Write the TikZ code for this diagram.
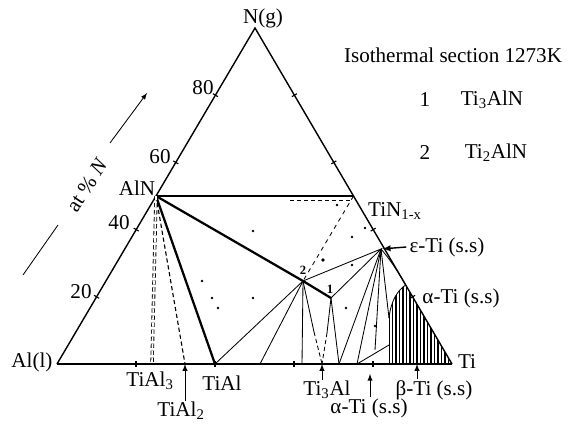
\documentclass[tikz,border=0pt]{standalone}
\usepackage{fontspec}
\setmainfont{Liberation Serif}

\tikzset{
  lbl/.style={font=\fontsize{15}{18}\selectfont, inner sep=0pt},
  ptlbl/.style={font=\fontsize{9}{10}\selectfont\bfseries, inner sep=0pt},
  phase/.style={line width=0.6pt},
  tie/.style={line width=1.6pt},
}

\begin{document}
\begin{tikzpicture}[x=0.025cm, y=-0.025cm]
    \useasboundingbox (0,0) rectangle (570,432);

    % corners and invariant points
    \coordinate (Al) at (57,364);
    \coordinate (Ti) at (452,364);
    \coordinate (N) at (255,28);
    \coordinate (AlN) at (156,196);
    \coordinate (TiN) at (353.5,196);
    \coordinate (eps) at (381,249);
    \coordinate (P2) at (303,281);
    \coordinate (P1) at (331,298);
    \coordinate (TiAl3) at (152,364);
    \coordinate (TiAl2) at (185,364);
    \coordinate (TiAl) at (215,364);
    \coordinate (Ti3Al) at (322,364);
    \coordinate (b1) at (260,364);
    \coordinate (b2) at (302,364);
    \coordinate (b3) at (339,364);
    \coordinate (b4) at (357,364);
    \coordinate (e1) at (375,350);
    \coordinate (h1) at (389,318);
    \coordinate (h2) at (405.7,285);
    \coordinate (m2) at (314,332);
    \coordinate (m1) at (327,333);
    \coordinate (aTi) at (370,364);
    \coordinate (bTi) at (417,364);

    % hatched field next to Ti
    \begin{scope}
      \clip (389,364) -- (h1) .. controls (391,300) and (398,290) .. (h2) -- (Ti) -- cycle;
      \foreach \x in {389,392.5,...,452} {
          \draw[line width=0.9pt] (\x,280) -- (\x,364);
        }
    \end{scope}

    % triangle
    \draw[line width=1pt] (Al) -- (N) -- (Ti);
    \draw[line width=1.5pt] (Al) -- (Ti);

    % ticks every 20 %
    \foreach \x/\y in {96.6/296.8, 136.2/229.6, 175.8/162.4, 215.4/95.2} {
        \draw[line width=0.8pt] (\x,\y) ++(-2.5,-1.5) -- ++(5,3);
      }
    \foreach \x/\y in {294.4/95.2, 333.8/162.4, 373.2/229.6, 412.6/296.8} {
        \draw[line width=0.8pt] (\x,\y) ++(-2.5,1.5) -- ++(5,-3);
      }
    \foreach \x in {136,215,294,373} {
        \draw[line width=0.8pt] (\x,361) -- (\x,367);
      }

    % tie lines from AlN
    \draw[tie] (AlN) -- (TiN);
    \draw[phase, densely dashed] (290,200.5) -- (350,200.5);
    \draw[tie] (AlN) -- (P2) -- (P1);
    \draw[tie] (AlN) -- (TiAl);
    \draw[line width=0.8pt, densely dashed] (AlN) -- (TiAl2);
    \draw[line width=0.6pt, densely dashed, double, double distance=1.2pt] (AlN) -- (TiAl3);

    % three-phase fields round 1 and 2
    \draw[phase] (P2) -- (eps) -- (P1);
    \draw[phase, dashed] (TiN) -- (P2);
    \foreach \b in {TiAl,b1,b2} {
        \draw[phase] (P2) -- (\b);
      }
    \draw[phase] (P2) -- (m2);
    \draw[phase, densely dashed] (m2) -- (Ti3Al);
    \draw[phase] (P1) -- (m1);
    \draw[phase, densely dashed] (m1) -- (Ti3Al);
    \draw[phase] (P1) -- (b3);
    \foreach \b in {b3,b4,e1,h1} {
        \draw[phase] (eps) -- (\b);
      }
    \draw[phase] (b4) -- (389,345);
    \draw[phase] (eps) .. controls (392,262) and (400,275) .. (h2);
    \draw[phase] (h1) .. controls (391,300) and (398,290) .. (h2);

    % experimental points
    \foreach \x/\y in {253/231, 202/281, 212/298, 218/308, 253/298, 337/205,
        352/237, 352/265, 346/308, 375/326, 365/228} {
        \fill (\x,\y) circle (0.9pt);
      }
    \fill (323,260) circle (1.4pt);

    \node[ptlbl] (l2) at (303,270) {2};
    \node[ptlbl] (l1) at (330,289) {1};

    % corner and axis labels
    \node[lbl] (lN) at (263,18) {N(g)};
    \node[lbl] (lAl) at (32,362) {Al(l)};
    \node[lbl] (lTi) at (467,362) {Ti};
    \node[lbl] (lAlN) at (137,188) {AlN};
    \node[lbl] (lTiN) at (395,211) {TiN\textsubscript{1-x}};
    \node[lbl] (l80) at (203,88) {80};
    \node[lbl] (l60) at (160,157) {60};
    \node[lbl] (l40) at (119,223) {40};
    \node[lbl] (l20) at (81,292) {20};

    \node[lbl, rotate=57] (lAt) at (87,185) {at \% \textit{N}};
    \coordinate (ax1) at (23,275);
    \coordinate (ax2) at (58,225);
    \coordinate (ax3) at (110,143);
    \coordinate (ax4) at (147,93);
    \draw[line width=0.6pt] (ax1) -- (ax2);
    \draw[line width=0.6pt, -latex] (ax3) -- (ax4);

    % legend
    \node[lbl] (lTitle) at (453,55) {Isothermal section 1273K};
    \node[lbl] (lOne) at (425,100) {1};
    \node[lbl] (lTi3AlN) at (492,100) {Ti\textsubscript{3}AlN};
    \node[lbl] (lTwo) at (425,153) {2};
    \node[lbl] (lTi2AlN) at (496,153) {Ti\textsubscript{2}AlN};

    % phase labels
    \node[lbl] (lEps) at (447,247) {ε-Ti (s.s)};
    \draw[line width=1pt, -latex, shorten >=1pt] (lEps.west) ++(-3,0) -- (eps);
    \node[lbl] (lAlpha) at (461,298) {α-Ti (s.s)};
    \node[lbl] (lTiAl3) at (150,381) {TiAl\textsubscript{3}};
    \node[lbl] (lTiAl) at (222,383) {TiAl};
    \node[lbl] (lTiAl2) at (181,411) {TiAl\textsubscript{2}};
    \node[lbl] (lTi3Al) at (327,390) {Ti\textsubscript{3}Al};
    \node[lbl] (lAlphaB) at (369,408) {α-Ti (s.s)};
    \node[lbl] (lBeta) at (434,390) {β-Ti (s.s)};

    \draw[line width=0.7pt, -latex] (lTiAl2.north -| TiAl2) ++(0,-1) -- (TiAl2);
    \draw[line width=0.7pt, -latex] (lTi3Al.north -| Ti3Al) ++(0,-1) -- (Ti3Al);
    \draw[line width=0.7pt, -latex, shorten >=7pt] (lAlphaB.north -| aTi) ++(0,-1) -- (aTi);
    \draw[line width=0.7pt, -latex] (lBeta.north -| bTi) ++(0,-1) -- (bTi);
  \end{tikzpicture}
\end{document}
